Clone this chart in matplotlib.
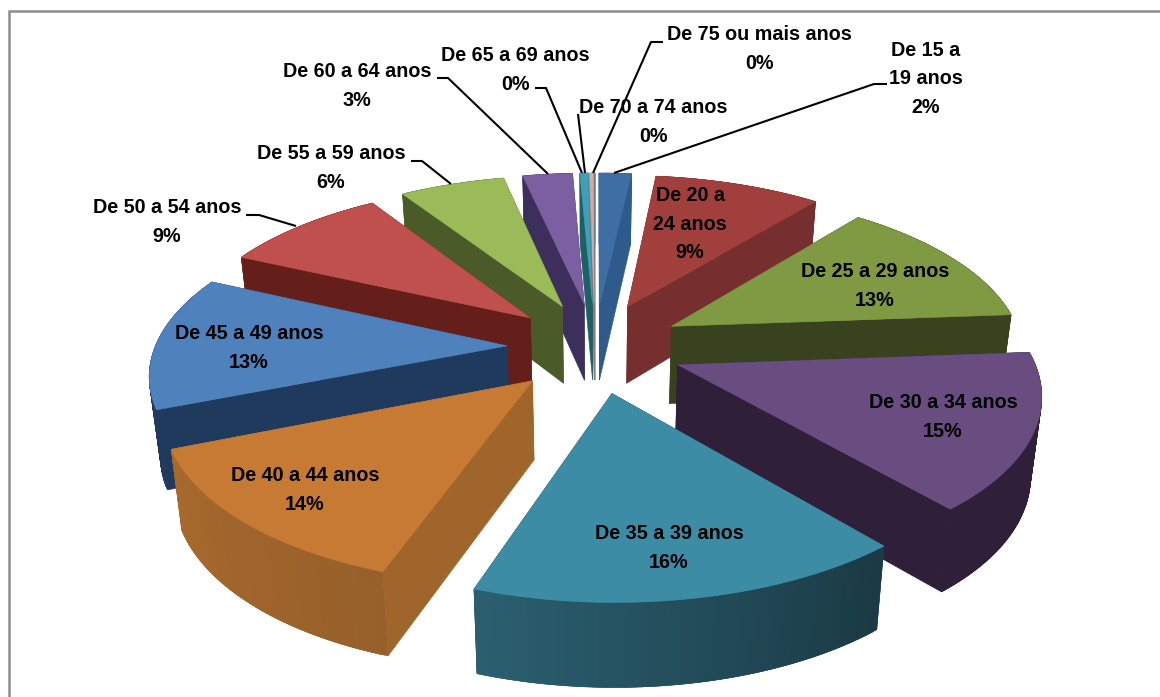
import numpy as np
import matplotlib
matplotlib.use("Agg")
import matplotlib.pyplot as plt
from matplotlib.colors import to_rgb

plt.rcParams['font.family'] = ['Liberation Sans', 'DejaVu Sans']

# clockwise from 12 o'clock
ages = ["De 15 a\n19 anos", "De 20 a\n24 anos", "De 25 a 29 anos", "De 30 a 34 anos",
        "De 35 a 39 anos", "De 40 a 44 anos", "De 45 a 49 anos", "De 50 a 54 anos",
        "De 55 a 59 anos", "De 60 a 64 anos", "De 65 a 69 anos", "De 70 a 74 anos",
        "De 75 ou mais anos"]
pct_labels = ["2%", "9%", "13%", "15%", "16%", "14%", "13%", "9%", "6%", "3%", "0%", "0%", "0%"]
values = [1.75, 9.05, 13.0, 15.0, 16.5, 13.6, 13.0, 9.0, 5.7, 2.7, 0.45, 0.2, 0.05]

top_colors = ["#3f6ea5", "#a03f3c", "#7f9a42", "#694c80", "#3d8ca6", "#c67a34",
              "#4f81bd", "#c0504d", "#9bbb59", "#7b5fa0", "#3f9fb8", "#d9a8a0", "#5a7fae"]
side_colors = ["#2f5a8c", "#762e2e", "#39421f", "#2f1f38", "#1f4d5a", "#a0652b",
               "#1f3a5c", "#641f1b", "#4a5a28", "#3d2f5c", "#1f5f66", "#9a7a70", "#33506f"]
rim_start = ["#2f5a8c", "#762e2e", "#39421f", "#2f1f38", "#1a3a44", "#97602b",
             "#1f3a5c", "#641f1b", "#4a5a28", "#3d2f5c", "#1f5f66", "#9a7a70", "#33506f"]
rim_end = ["#2f5a8c", "#762e2e", "#39421f", "#2f1f38", "#2b5f70", "#a8692c",
           "#1f3a5c", "#641f1b", "#4a5a28", "#3d2f5c", "#1f5f66", "#9a7a70", "#33506f"]

# label centres in pixels
label_x = [926, 690, 875, 943, 669, 305, 249, 167, 331, 357, 515, 653, 759]
label_y = [79, 224, 286, 417, 548, 490, 348, 222, 168, 86, 70, 122, 49]

leaders = [
    [(887, 84), (874, 84), (614, 173)],
    [(663, 42), (651, 42), (593, 173)],
    [(578, 114), (585, 173)],
    [(535, 88), (546, 88), (582, 173)],
    [(437, 78), (448, 78), (548, 174)],
    [(411, 161), (422, 161), (451, 184)],
    [(246, 215), (259, 215), (296, 226)],
]

# fake camera for the exploded 3d pie
cx, cy = 595, 347
rx, ry = 352, 162
persp = 0.15
explode_x = 0.25
explode_z = 0.28
height = 78


def project(x, z, low=False):
    den = 1 + persp * z
    sx = x / den
    sy = z / den
    if low:
        # floor of the pie sits a bit closer to the centre
        return cx + rx * sx * 0.975, cy - ry * sy + height * (1 - 0.07 * z)
    return cx + rx * sx, cy - ry * sy


def quad(ax, pts, color, z):
    xs = [p[0] for p in pts]
    ys = [p[1] for p in pts]
    ax.fill(xs, ys, facecolor=color, edgecolor=color, linewidth=0.4, zorder=z)


fig = plt.figure(figsize=(11.6, 6.97), dpi=100)
ax = fig.add_axes([0, 0, 1, 1])
ax.set_xlim(0, 1160)
ax.set_ylim(697, 0)
ax.axis("off")

ax.plot([9, 9, 1160], [697, 11, 11], color="#8c8c8c", lw=1.8, solid_joinstyle="miter", zorder=1)

fracs = np.array(values) / sum(values)
ends = np.cumsum(fracs) * 2 * np.pi
starts = ends - fracs * 2 * np.pi
mids = (starts + ends) / 2

order = np.argsort(-np.cos(mids))
z = 2
for i in order:
    ox = explode_x * np.sin(mids[i])
    oz = explode_z * np.cos(mids[i])
    th = np.linspace(starts[i], ends[i], max(4, int(values[i] * 5)))
    px = ox + np.sin(th)
    pz = oz + np.cos(th)

    # cut faces
    for k in (0, -1):
        quad(ax, [project(ox, oz), project(px[k], pz[k]),
                  project(px[k], pz[k], True), project(ox, oz, True)], side_colors[i], z)
        z += 1

    # outer rim, strips overlap the next one so no seams show
    c0 = np.array(to_rgb(rim_start[i]))
    c1 = np.array(to_rgb(rim_end[i]))
    for k in range(len(th) - 1):
        t = k / max(1, len(th) - 2)
        n = min(k + 2, len(th) - 1)
        strip = [project(a, b) for a, b in zip(px[k:n + 1], pz[k:n + 1])]
        strip += [project(a, b, True) for a, b in zip(px[k:n + 1][::-1], pz[k:n + 1][::-1])]
        quad(ax, strip, tuple(c0 + (c1 - c0) * t), z)
        z += 1

    top = [project(ox, oz)] + [project(a, b) for a, b in zip(px, pz)]
    quad(ax, top, top_colors[i], z)
    z += 1

for line in leaders:
    ax.plot([p[0] for p in line], [p[1] for p in line], color="black", lw=1.5,
            solid_capstyle="butt", zorder=z)
z += 1

for i in range(len(ages)):
    ax.text(label_x[i], label_y[i], ages[i] + "\n" + pct_labels[i], ha="center", va="center",
            fontsize=14.2, fontweight="bold", color="black", linespacing=1.66, zorder=z)

fig.savefig("out.png", dpi=100, facecolor="white")
